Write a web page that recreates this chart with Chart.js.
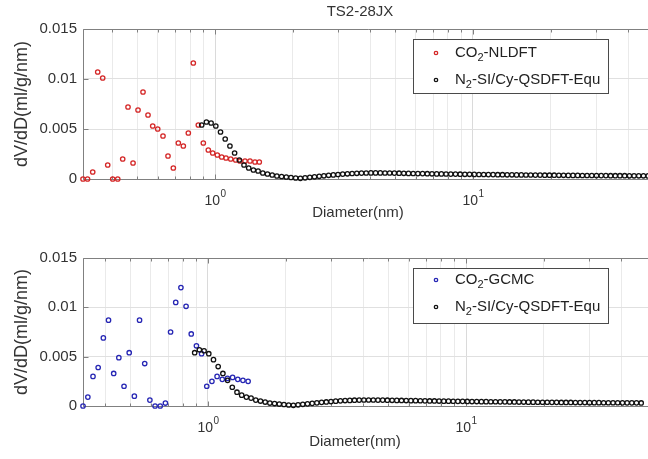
<!DOCTYPE html>
<html><head><meta charset="utf-8">
<script src="https://cdn.jsdelivr.net/npm/chart.js@4/dist/chart.umd.min.js"></script>
<style>
html,body{margin:0;padding:0;background:#fff;overflow:hidden;width:648px;height:459px;}
.w{position:absolute;left:0;}
</style></head><body>
<div class="w" style="top:0"><canvas id="c1" width="700" height="229"></canvas></div>
<div class="w" style="top:229px"><canvas id="c2" width="700" height="230"></canvas></div>
<script>
// ---------- data ----------
const chartTitle = "TS2-28JX";
const xAxisLabel = "Diameter(nm)";
const yAxisLabel = "dV/dD(ml/g/nm)";
const yTickValues = [0, 0.005, 0.01, 0.015];
const yTickLabels = ["0", "0.005", "0.01", "0.015"];
const xMajorTicks = [1, 10];
const xMajorExponents = ["0", "1"];
const xMinorTicks = [0.4, 0.5, 0.6, 0.7, 0.8, 0.9, 2, 3, 4, 5, 6, 7, 8, 9, 20, 30, 40];

const co2NldftD = [0.3078, 0.3205, 0.3357, 0.3510, 0.3670, 0.3838, 0.4013, 0.4197, 0.4387, 0.4600,
  0.4811, 0.5030, 0.5259, 0.5499, 0.5735, 0.5997, 0.6286, 0.6573, 0.6893, 0.7208,
  0.7537, 0.7880, 0.8239, 0.8615, 0.9009, 0.9419, 0.9797, 1.0207, 1.0617, 1.1030,
  1.1505, 1.2028, 1.2500, 1.3070, 1.3667, 1.4289, 1.4848];
const co2NldftV = [0, 0, 0.0007, 0.0107, 0.0101, 0.0014, 0, 0, 0.0020, 0.0072,
  0.0016, 0.0069, 0.0087, 0.0064, 0.0053, 0.0050, 0.0043, 0.0023, 0.0011, 0.0036,
  0.0033, 0.0046, 0.0116, 0.0054, 0.0036, 0.0029, 0.0026, 0.0024, 0.0022, 0.0021,
  0.0020, 0.0019, 0.0018, 0.0018, 0.0018, 0.0017, 0.0017];

const co2GcmcD = [0.3278, 0.3423, 0.3584, 0.3753, 0.3931, 0.4116, 0.4311, 0.4514, 0.4727, 0.4951,
  0.5184, 0.5430, 0.5686, 0.5954, 0.6236, 0.6530, 0.6839, 0.7162, 0.7499, 0.7854,
  0.8224, 0.8613, 0.9020, 0.9445, 0.9892, 1.0358, 1.0846, 1.1360, 1.1896, 1.2457,
  1.3046, 1.3661, 1.4308];
const co2GcmcV = [0, 0.0009, 0.0030, 0.0039, 0.0069, 0.0087, 0.0033, 0.0049, 0.0020, 0.0054,
  0.0010, 0.0087, 0.0043, 0.0006, 0, 0, 0.0003, 0.0075, 0.0105, 0.0120,
  0.0101, 0.0073, 0.0061, 0.0053, 0.0020, 0.0025, 0.0030, 0.0027, 0.0028, 0.0029,
  0.0027, 0.0026, 0.0025];

const n2D = [0.8881, 0.9261, 0.9658, 1.0072, 1.0503, 1.0952, 1.1424, 1.1912, 1.2422, 1.2954,
  1.3509, 1.4087, 1.4689, 1.5320, 1.5976, 1.6660, 1.7374, 1.8117, 1.8893, 1.9702,
  2.0548, 2.1429, 2.2346, 2.3302, 2.4305, 2.5345, 2.6430, 2.7561, 2.8741, 2.9972,
  3.1261, 3.2600, 3.3996, 3.5451, 3.6969, 3.8548, 4.0206, 4.1927, 4.3722, 4.5594,
  4.7546, 4.9581, 5.1714, 5.3926, 5.6234, 5.8641, 6.1151, 6.3769, 6.6511, 6.9356,
  7.2325, 7.5421, 7.8649, 8.2016, 8.5543, 8.9204, 9.3022, 9.7007, 10.116, 10.549,
  11.003, 11.474, 11.965, 12.477, 13.011, 13.568, 14.152, 14.757, 15.389, 16.047,
  16.734, 17.451, 18.202, 18.981, 19.794, 20.641, 21.525, 22.446, 23.413, 24.415,
  25.460, 26.550, 27.687, 28.872, 30.116, 31.405, 32.749, 34.151, 35.613, 37.137,
  38.726, 40.384, 42.112, 43.915, 45.795, 47.753];
const n2V = [0.0054, 0.0057, 0.0056, 0.0053, 0.0047, 0.0040, 0.0033, 0.0026, 0.0019, 0.0014,
  0.0011, 0.0009, 0.0008, 0.0006, 0.0005, 0.0004, 0.0003, 0.00025, 0.0002, 0.00015,
  0.0001, 0.00007, 0.00012, 0.00017, 0.00022, 0.00027, 0.00032, 0.00037, 0.00041, 0.00045,
  0.00049, 0.00052, 0.00055, 0.00057, 0.00059, 0.0006, 0.00061, 0.00061, 0.00061, 0.0006,
  0.0006, 0.00059, 0.00058, 0.00057, 0.00056, 0.00055, 0.00054, 0.00054, 0.00053, 0.00052,
  0.00051, 0.00051, 0.0005, 0.00049, 0.00049, 0.00048, 0.00047, 0.00047, 0.00046, 0.00045,
  0.00045, 0.00044, 0.00044, 0.00043, 0.00043, 0.00042, 0.00042, 0.00041, 0.00041, 0.0004,
  0.0004, 0.00039, 0.00039, 0.00038, 0.00038, 0.00038, 0.00037, 0.00037, 0.00036, 0.00036,
  0.00036, 0.00035, 0.00035, 0.00035, 0.00034, 0.00034, 0.00034, 0.00033, 0.00033, 0.00033,
  0.00033, 0.00032, 0.00032, 0.00032, 0.00032, 0.00031];

// ---------- drawing ----------
const FONT = "'Liberation Sans', Arial, Helvetica, sans-serif";
const AXIS_COLOR = '#808080';
const TEXT_COLOR = '#333333';
const RED = '#d42626';
const BLUE = '#2626b4';
const BLACK = '#111111';

function pts(d, v) { return d.map((x, i) => ({ x: x, y: v[i] })); }

function drawSubText(ctx, x, y, parts, size) {
  let cx = x;
  parts.forEach(p => {
    if (p[1]) {
      ctx.font = Math.round(size * 0.7) + 'px ' + FONT;
      ctx.fillText(p[0], cx, y + size * 0.35);
    } else {
      ctx.font = size + 'px ' + FONT;
      ctx.fillText(p[0], cx, y);
    }
    cx += ctx.measureText(p[0]).width;
  });
}

function decor(cfg) {
  return {
    id: 'decor',
    beforeDatasetsDraw(chart) {
      const { ctx, chartArea: a, scales: { x, y } } = chart;
      ctx.save();
      ctx.strokeStyle = AXIS_COLOR; ctx.lineWidth = 1;
      const L = Math.round(a.left) + 0.5, B = Math.round(a.bottom) + 0.5, T = Math.round(a.top) + 0.5, R = a.right;
      ctx.beginPath();
      ctx.moveTo(R, T); ctx.lineTo(L, T); ctx.lineTo(L, B); ctx.lineTo(R, B);
      xMinorTicks.forEach(v => {
        const px = Math.round(x.getPixelForValue(v)) + 0.5;
        ctx.moveTo(px, B); ctx.lineTo(px, B - 3); ctx.moveTo(px, T); ctx.lineTo(px, T + 3);
      });
      xMajorTicks.forEach(v => {
        const px = Math.round(x.getPixelForValue(v)) + 0.5;
        ctx.moveTo(px, B); ctx.lineTo(px, B - 5); ctx.moveTo(px, T); ctx.lineTo(px, T + 5);
      });
      yTickValues.forEach(v => {
        const py = Math.round(y.getPixelForValue(v)) + 0.5;
        ctx.moveTo(L, py); ctx.lineTo(L + 5, py);
      });
      ctx.stroke();
      ctx.restore();
    },
    afterDraw(chart) {
      const { ctx, chartArea: a, scales: { x } } = chart;
      ctx.save();
      ctx.fillStyle = TEXT_COLOR;
      ctx.textBaseline = 'alphabetic';
      xMajorTicks.forEach((v, i) => {
        const px = x.getPixelForValue(v);
        ctx.font = '14px ' + FONT;
        const w1 = ctx.measureText('10').width;
        ctx.font = '10px ' + FONT;
        const w2 = ctx.measureText(xMajorExponents[i]).width;
        const sx = px - (w1 + w2) / 2;
        ctx.textAlign = 'left';
        ctx.font = '14px ' + FONT;
        ctx.fillText('10', sx, a.bottom + 26);
        ctx.font = '10px ' + FONT;
        ctx.fillText(xMajorExponents[i], sx + w1 + 0.5, a.bottom + 18);
      });
      ctx.textAlign = 'center';
      ctx.textBaseline = 'middle';
      ctx.font = '15px ' + FONT;
      ctx.fillText(xAxisLabel, cfg.xLabelX, a.bottom + cfg.xLabelDy);
      ctx.save();
      ctx.translate(cfg.yLabelX, (a.top + a.bottom) / 2);
      ctx.rotate(-Math.PI / 2);
      ctx.font = '18px ' + FONT;
      ctx.fillText(yAxisLabel, 0, 0);
      ctx.restore();
      if (cfg.title) {
        ctx.font = '15px ' + FONT;
        ctx.fillText(cfg.title, 360, 12);
      }
      const lg = cfg.legend;
      ctx.fillStyle = '#ffffff';
      ctx.fillRect(lg.x, lg.y, lg.w, lg.h);
      ctx.strokeStyle = '#4a4a4a'; ctx.lineWidth = 1;
      ctx.strokeRect(lg.x + 0.5, lg.y + 0.5, lg.w, lg.h);
      lg.items.forEach((it, i) => {
        const cy = lg.y + lg.rowY[i];
        ctx.beginPath();
        ctx.arc(lg.x + 23, cy, 1.7, 0, Math.PI * 2);
        ctx.strokeStyle = it.color; ctx.lineWidth = 1.3;
        ctx.stroke();
        ctx.fillStyle = '#222222';
        ctx.textAlign = 'left';
        ctx.textBaseline = 'middle';
        drawSubText(ctx, lg.x + 42, cy, it.parts, 15);
      });
      ctx.restore();
    }
  };
}

function makeChart(id, cfg) {
  return new Chart(document.getElementById(id), {
    type: 'scatter',
    data: { datasets: cfg.datasets },
    options: {
      responsive: false, animation: false, devicePixelRatio: 1,
      layout: { padding: { left: 0, top: cfg.padTop, right: cfg.padRight, bottom: cfg.padBottom } },
      plugins: { legend: { display: false }, tooltip: { enabled: false }, title: { display: false } },
      scales: {
        x: {
          type: 'logarithmic', min: cfg.xMin, max: cfg.xMax, bounds: 'data',
          afterBuildTicks: s => {
            s.ticks = xMinorTicks.concat(xMajorTicks).sort((p, q) => p - q).map(v => ({ value: v }));
            s.min = cfg.xMin; s.max = cfg.xMax;
          },
          afterFit: s => { s.height = 0; },
          ticks: { display: false },
          grid: { drawTicks: false, color: c => (c.tick && xMajorTicks.includes(c.tick.value)) ? '#dadada' : '#eaeaea' },
          border: { display: false }
        },
        y: {
          min: 0, max: 0.015,
          afterBuildTicks: s => { s.ticks = yTickValues.map(v => ({ value: v })); s.min = 0; s.max = 0.015; },
          afterFit: s => { s.width = 83; },
          ticks: { callback: (v, i) => yTickLabels[i], font: { family: FONT, size: 15 }, color: TEXT_COLOR, padding: 6 },
          grid: { drawTicks: false, color: '#e0e0e0' },
          border: { display: false }
        }
      }
    },
    plugins: [decor(cfg)]
  });
}

function ds(label, d, v, color) {
  return { label: label, data: pts(d, v), showLine: false, pointRadius: 2.2, pointBorderWidth: 1.3,
    pointBackgroundColor: 'rgba(0,0,0,0)', pointBorderColor: color, pointHoverRadius: 2.2, clip: false };
}

makeChart('c1', {
  xMin: 0.3078, xMax: 50, padTop: 29, padBottom: 50, padRight: 46.7,
  xLabelX: 358, xLabelDy: 34, yLabelX: 22, title: chartTitle,
  datasets: [ds('N2', n2D, n2V, BLACK), ds('CO2-NLDFT', co2NldftD, co2NldftV, RED)],
  legend: { x: 413, y: 39, w: 195, h: 54, rowY: [14, 41],
    items: [ { color: RED, parts: [['CO', false], ['2', true], ['-NLDFT', false]] },
             { color: BLACK, parts: [['N', false], ['2', true], ['-SI/Cy-QSDFT-Equ', false]] } ] }
});

makeChart('c2', {
  xMin: 0.3278, xMax: 53.2, padTop: 29, padBottom: 53, padRight: 46.7,
  xLabelX: 355, xLabelDy: 36, yLabelX: 22, title: null,
  datasets: [ds('N2', n2D, n2V, BLACK), ds('CO2-GCMC', co2GcmcD, co2GcmcV, BLUE)],
  legend: { x: 413, y: 39, w: 195, h: 55, rowY: [12, 39],
    items: [ { color: BLUE, parts: [['CO', false], ['2', true], ['-GCMC', false]] },
             { color: BLACK, parts: [['N', false], ['2', true], ['-SI/Cy-QSDFT-Equ', false]] } ] }
});
</script>
</body></html>
